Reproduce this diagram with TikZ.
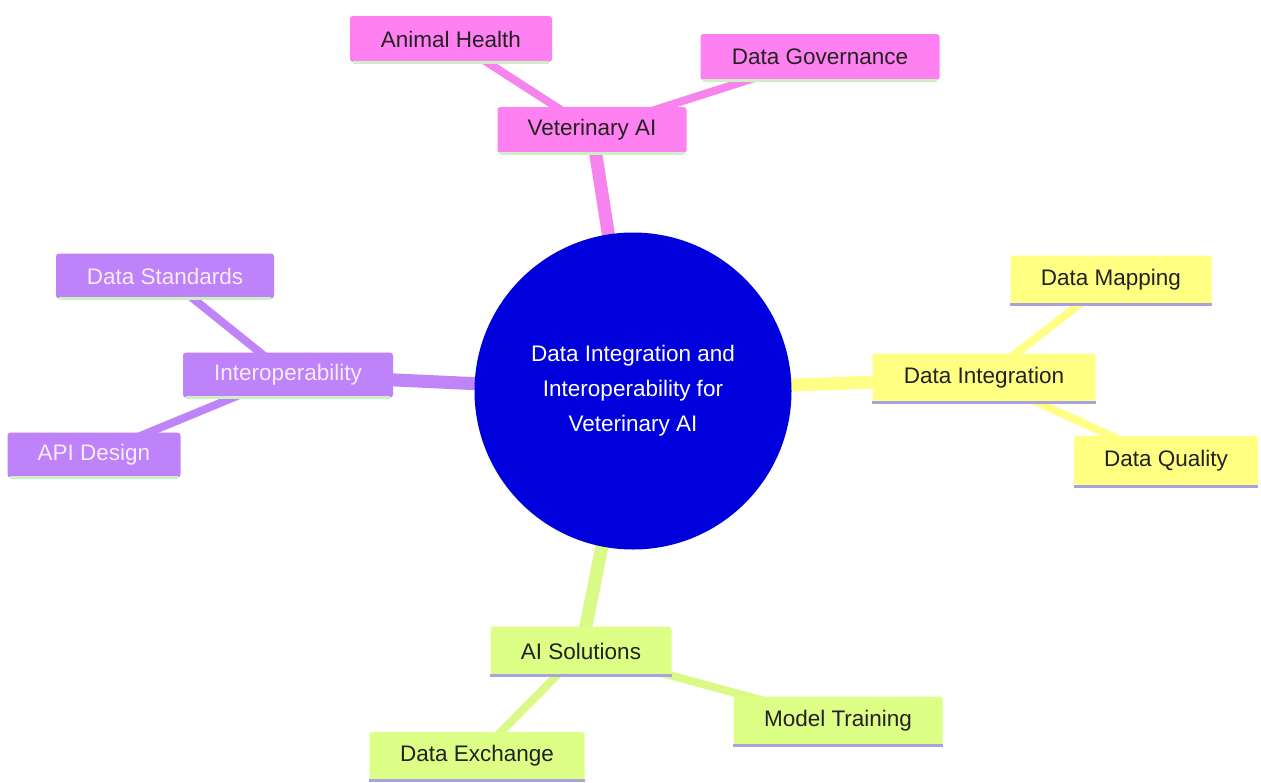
\documentclass[tikz,border=0pt]{standalone}
\usepackage{fontspec}
\setmainfont{Liberation Sans}
\usetikzlibrary{backgrounds}
\begin{document}
\begin{tikzpicture}[x=1pt,y=-1pt,
  lbl/.style={font=\fontsize{22.5}{26}\selectfont, rounded corners=3, inner sep=0pt, minimum height=46},
  pinkbox/.style={lbl, fill=vetpink, text=textdark},
  purplebox/.style={lbl, fill=intpurple, text=inttext},
  yellowbox/.style={lbl, fill=diyellow, text=textdark},
  greenbox/.style={lbl, fill=aigreen, text=textdark},
  rootline/.style={line width=13},
  leafline/.style={line width=8},
  underline/.style={line width=3},
]
\definecolor{vetpink}{HTML}{FF80F0}
\definecolor{vetline}{HTML}{F585EC}
\definecolor{intpurple}{HTML}{BE82FA}
\definecolor{intline}{HTML}{BF84F8}
\definecolor{inttext}{HTML}{F7ECF7}
\definecolor{diyellow}{HTML}{FFFF82}
\definecolor{diline}{HTML}{FFFF85}
\definecolor{aigreen}{HTML}{DEFF85}
\definecolor{ailine}{HTML}{DAFA88}
\definecolor{textdark}{HTML}{222222}
\definecolor{rootblue}{HTML}{0000DD}
\definecolor{lavender}{HTML}{A8A2E0}
\definecolor{mintline}{HTML}{CDEFC5}
\useasboundingbox (0,0) rectangle (1261,782);

\node[circle, fill=rootblue, minimum size=317, inner sep=0pt, text=white,
      align=center, font=\fontsize{22.5}{35}\selectfont] (root) at (633,391)
  {Data Integration and\\Interoperability for\\Veterinary AI};

\node[pinkbox, minimum width=189] (vet) at (592,130) {Veterinary AI};
\node[pinkbox, minimum width=202] (ah) at (451,39) {Animal Health};
\node[pinkbox, minimum width=239] (dg) at (820,57) {Data Governance};
\node[purplebox, minimum width=210, minimum height=45] (int) at (288,375) {Interoperability};
\node[purplebox, minimum width=218, minimum height=45] (ds) at (165,276) {Data Standards};
\node[purplebox, minimum width=173, minimum height=45] (api) at (94,455) {API Design};
\node[yellowbox, minimum width=223, minimum height=49] (di) at (984,378) {Data Integration};
\node[yellowbox, minimum width=201, minimum height=49] (dm) at (1111,280) {Data Mapping};
\node[yellowbox, minimum width=184, minimum height=50] (dq) at (1166,461) {Data Quality};
\node[greenbox, minimum width=181, minimum height=49] (ai) at (581,651) {AI Solutions};
\node[greenbox, minimum width=209, minimum height=49] (mt) at (838,721) {Model Training};
\node[greenbox, minimum width=215, minimum height=48] (dx) at (477,756) {Data Exchange};

\begin{scope}[on background layer]
  \fill[white] (0,0) rectangle (1261,782);
  \draw[rootline, vetline] (root.center) -- (vet.center);
  \draw[rootline, intline] (root.center) -- (int.center);
  \draw[rootline, diline] (root.center) -- (di.center);
  \draw[rootline, ailine] (root.center) -- (ai.center);
  \draw[leafline, vetline] (vet.center) -- (ah.center);
  \draw[leafline, vetline] (vet.center) -- (dg.center);
  \draw[leafline, intline] (int.center) -- (ds.center);
  \draw[leafline, intline] (int.center) -- (api.center);
  \draw[leafline, diline] (di.center) -- (dm.center);
  \draw[leafline, diline] (di.center) -- (dq.center);
  \draw[leafline, ailine] (ai.center) -- (mt.center);
  \draw[leafline, ailine] (ai.center) -- (dx.center);
\end{scope}

\foreach \n in {vet,ah,dg,int,ds,api}
  \draw[underline, mintline] ([xshift=3]\n.south west) -- ([xshift=-3]\n.south east);
\foreach \n in {di,dm,dq,ai,mt,dx}
  \draw[underline, lavender] (\n.south west) -- (\n.south east);
\end{tikzpicture}
\end{document}
